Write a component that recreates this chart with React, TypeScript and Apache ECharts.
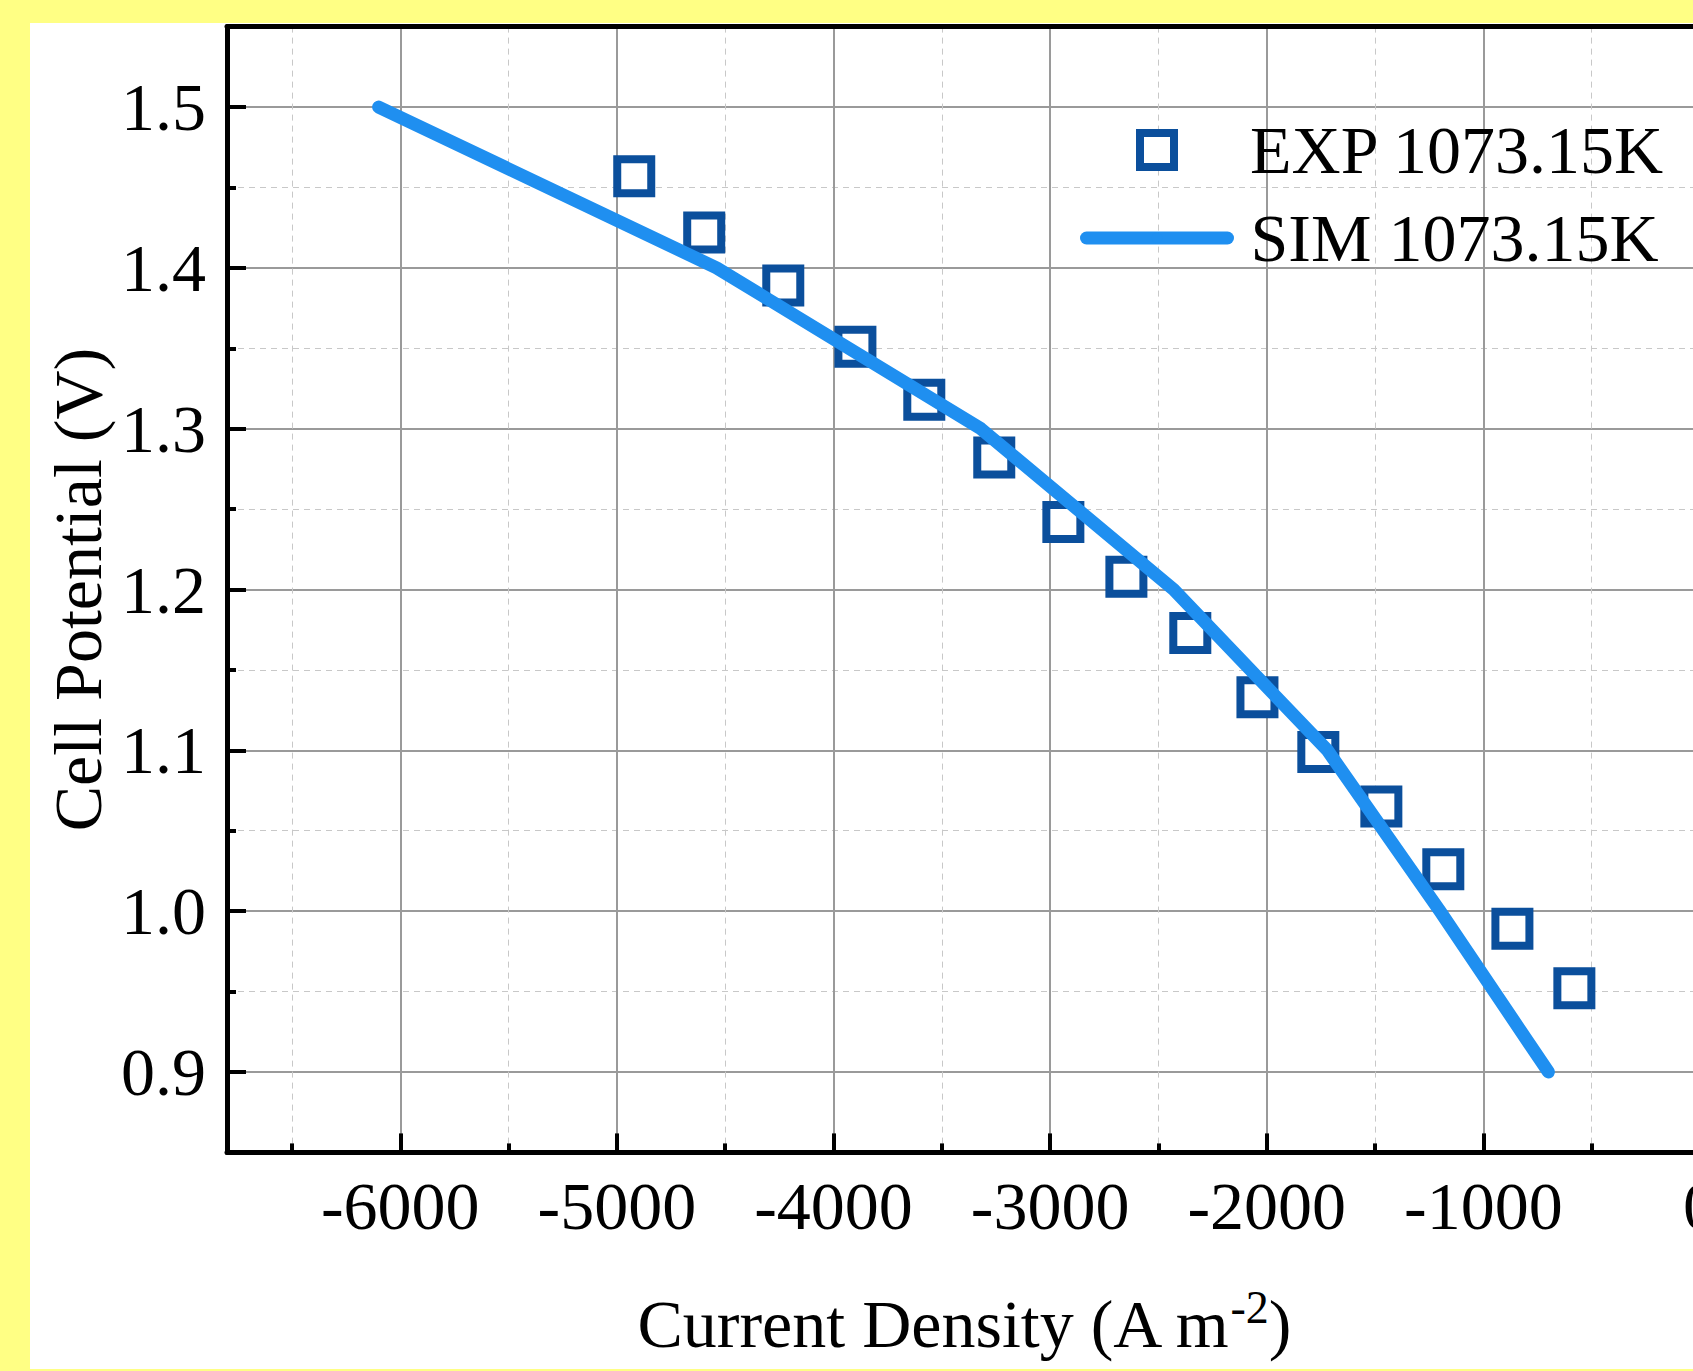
import React, { useEffect, useRef } from "react";
import * as echarts from "echarts";

// ---- data ----
const expCurrent = [-4920, -4597, -4232, -3899, -3581, -3258, -2939, -2648, -2353, -2043, -1762, -1471, -1185, -866, -580];
const expPotential = [1.457, 1.422, 1.389, 1.351, 1.318, 1.282, 1.242, 1.208, 1.173, 1.133, 1.099, 1.065, 1.026, 0.989, 0.952];
const simCurrent = [-6100, -4540, -3320, -2430, -1720, -1200, -700];
const simPotential = [1.5, 1.4, 1.3, 1.2, 1.1, 1.0, 0.9];

const xRange = [-6800, 0];
const yRange = [0.85, 1.55];
const xMajorStep = 1000;
const yMajorStep = 0.1;

const expName = "EXP 1073.15K";
const simName = "SIM 1073.15K";
const xTitle = "Current Density (A m{sup|-2}{n|)}";
const yTitle = "Cell Potential (V)";

const FONT = "'Liberation Serif', 'Times New Roman', serif";
const PAGE_W = 1693;
const PAGE_H = 1371;
const CHART_W = 1760;
const EXP_COLOR = "#0b4f9c";
const SIM_COLOR = "#1f8ff0";

export default function App() {
  const ref = useRef<HTMLDivElement>(null);

  useEffect(() => {
    if (!ref.current) return;
    const chart = echarts.init(ref.current, undefined, { renderer: "svg" });

    const tickLine = { color: "#000", width: 4 };
    const minorSplit = { show: true, lineStyle: { color: "#c8c8c8", width: 1, type: [6, 5] } };
    const majorSplit = { show: true, lineStyle: { color: "#9a9a9a", width: 2 } };
    const labelStyle = { fontFamily: FONT, fontSize: 68, color: "#000" };

    const option: any = {
      animation: false,
      backgroundColor: "transparent",
      grid: {
        left: 227,
        top: 26.6,
        right: CHART_W - 1700,
        bottom: PAGE_H - 1152.4,
        containLabel: false,
        outerBoundsMode: "none",
      },
      legend: [
        {
          left: 1136,
          top: 115,
          padding: 0,
          itemWidth: 34,
          itemHeight: 34,
          selectedMode: false,
          textStyle: { ...labelStyle, lineHeight: 70, padding: [0, 0, 0, 71] },
          data: [
            {
              name: expName,
              icon: "rect",
              itemStyle: { color: "#fff", borderColor: EXP_COLOR, borderWidth: 8, opacity: 1 },
            },
          ],
        },
        {
          left: 1080,
          top: 203,
          padding: 0,
          itemWidth: 141,
          itemHeight: 13,
          selectedMode: false,
          textStyle: { ...labelStyle, lineHeight: 70, padding: [0, 0, 0, 18] },
          data: [
            {
              name: simName,
              lineStyle: { width: 13, color: SIM_COLOR, cap: "round", opacity: 1 },
              itemStyle: { color: SIM_COLOR, opacity: 1 },
            },
          ],
        },
      ],
      xAxis: [
        {
          type: "value",
          position: "bottom",
          min: xRange[0],
          max: xRange[1],
          splitNumber: 14,
          minInterval: xMajorStep / 2,
          maxInterval: xMajorStep / 2,
          axisLine: { show: false, onZero: false },
          axisTick: { show: true, inside: true, length: 9, lineStyle: tickLine },
          axisLabel: { show: false },
          splitLine: minorSplit,
        },
        {
          type: "value",
          position: "bottom",
          min: xRange[0],
          max: xRange[1],
          splitNumber: 7,
          minInterval: xMajorStep,
          maxInterval: xMajorStep,
          axisLine: { show: true, onZero: false, lineStyle: { color: "#000", width: 5 } },
          axisTick: { show: true, inside: true, length: 19, lineStyle: tickLine },
          axisLabel: {
            ...labelStyle,
            margin: 20,
            showMinLabel: false,
            showMaxLabel: true,
            formatter: (v: number) => String(v),
          },
          splitLine: majorSplit,
          name: xTitle,
          nameLocation: "middle",
          nameGap: 132,
          nameMoveOverlap: false,
          nameTextStyle: {
            ...labelStyle,
            lineHeight: 80,
            rich: {
              sup: { fontFamily: FONT, fontSize: 46, color: "#000", verticalAlign: "top", lineHeight: 80 },
              n: { fontFamily: FONT, fontSize: 68, color: "#000", lineHeight: 80 },
            },
          },
        },
        {
          type: "value",
          position: "top",
          min: xRange[0],
          max: xRange[1],
          axisLine: { show: true, onZero: false, lineStyle: { color: "#000", width: 5 } },
          axisTick: { show: false },
          axisLabel: { show: false },
          splitLine: { show: false },
        },
      ],
      yAxis: [
        {
          type: "value",
          position: "left",
          min: yRange[0],
          max: yRange[1],
          splitNumber: 14,
          minInterval: yMajorStep / 2,
          maxInterval: yMajorStep / 2,
          axisLine: { show: false, onZero: false },
          axisTick: { show: true, inside: true, length: 9, lineStyle: tickLine },
          axisLabel: { show: false },
          splitLine: minorSplit,
        },
        {
          type: "value",
          position: "left",
          min: yRange[0],
          max: yRange[1],
          splitNumber: 7,
          minInterval: yMajorStep,
          maxInterval: yMajorStep,
          axisLine: { show: true, onZero: false, lineStyle: { color: "#000", width: 5 } },
          axisTick: { show: true, inside: true, length: 19, lineStyle: tickLine },
          axisLabel: {
            ...labelStyle,
            margin: 21,
            showMinLabel: false,
            showMaxLabel: false,
            formatter: (v: number) => v.toFixed(1),
          },
          splitLine: majorSplit,
          name: yTitle,
          nameLocation: "middle",
          nameGap: 115,
          nameMoveOverlap: false,
          nameTextStyle: { ...labelStyle },
        },
      ],
      series: [
        {
          type: "scatter",
          name: expName,
          xAxisIndex: 1,
          yAxisIndex: 1,
          data: expCurrent.map((x, i) => [x, expPotential[i]]),
          symbol: "rect",
          symbolSize: 34,
          itemStyle: { color: "#fff", borderColor: EXP_COLOR, borderWidth: 8, opacity: 1 },
          z: 3,
        },
        {
          type: "line",
          name: simName,
          xAxisIndex: 1,
          yAxisIndex: 1,
          data: simCurrent.map((x, i) => [x, simPotential[i]]),
          symbol: "none",
          showSymbol: false,
          lineStyle: { color: SIM_COLOR, width: 13, cap: "round", join: "round" },
          itemStyle: { color: SIM_COLOR },
          z: 4,
        },
      ],
    };

    chart.setOption(option);
    return () => chart.dispose();
  }, []);

  return (
    <div
      style={{
        position: "fixed",
        left: 0,
        top: 0,
        width: PAGE_W,
        height: PAGE_H,
        overflow: "hidden",
        background: "#ffff84",
      }}
    >
      <div
        style={{
          position: "absolute",
          left: 30,
          top: 23,
          right: 0,
          bottom: 2,
          background: "#ffffff",
        }}
      />
      <div
        ref={ref}
        style={{ position: "absolute", left: 0, top: 0, width: CHART_W, height: PAGE_H }}
      />
    </div>
  );
}
